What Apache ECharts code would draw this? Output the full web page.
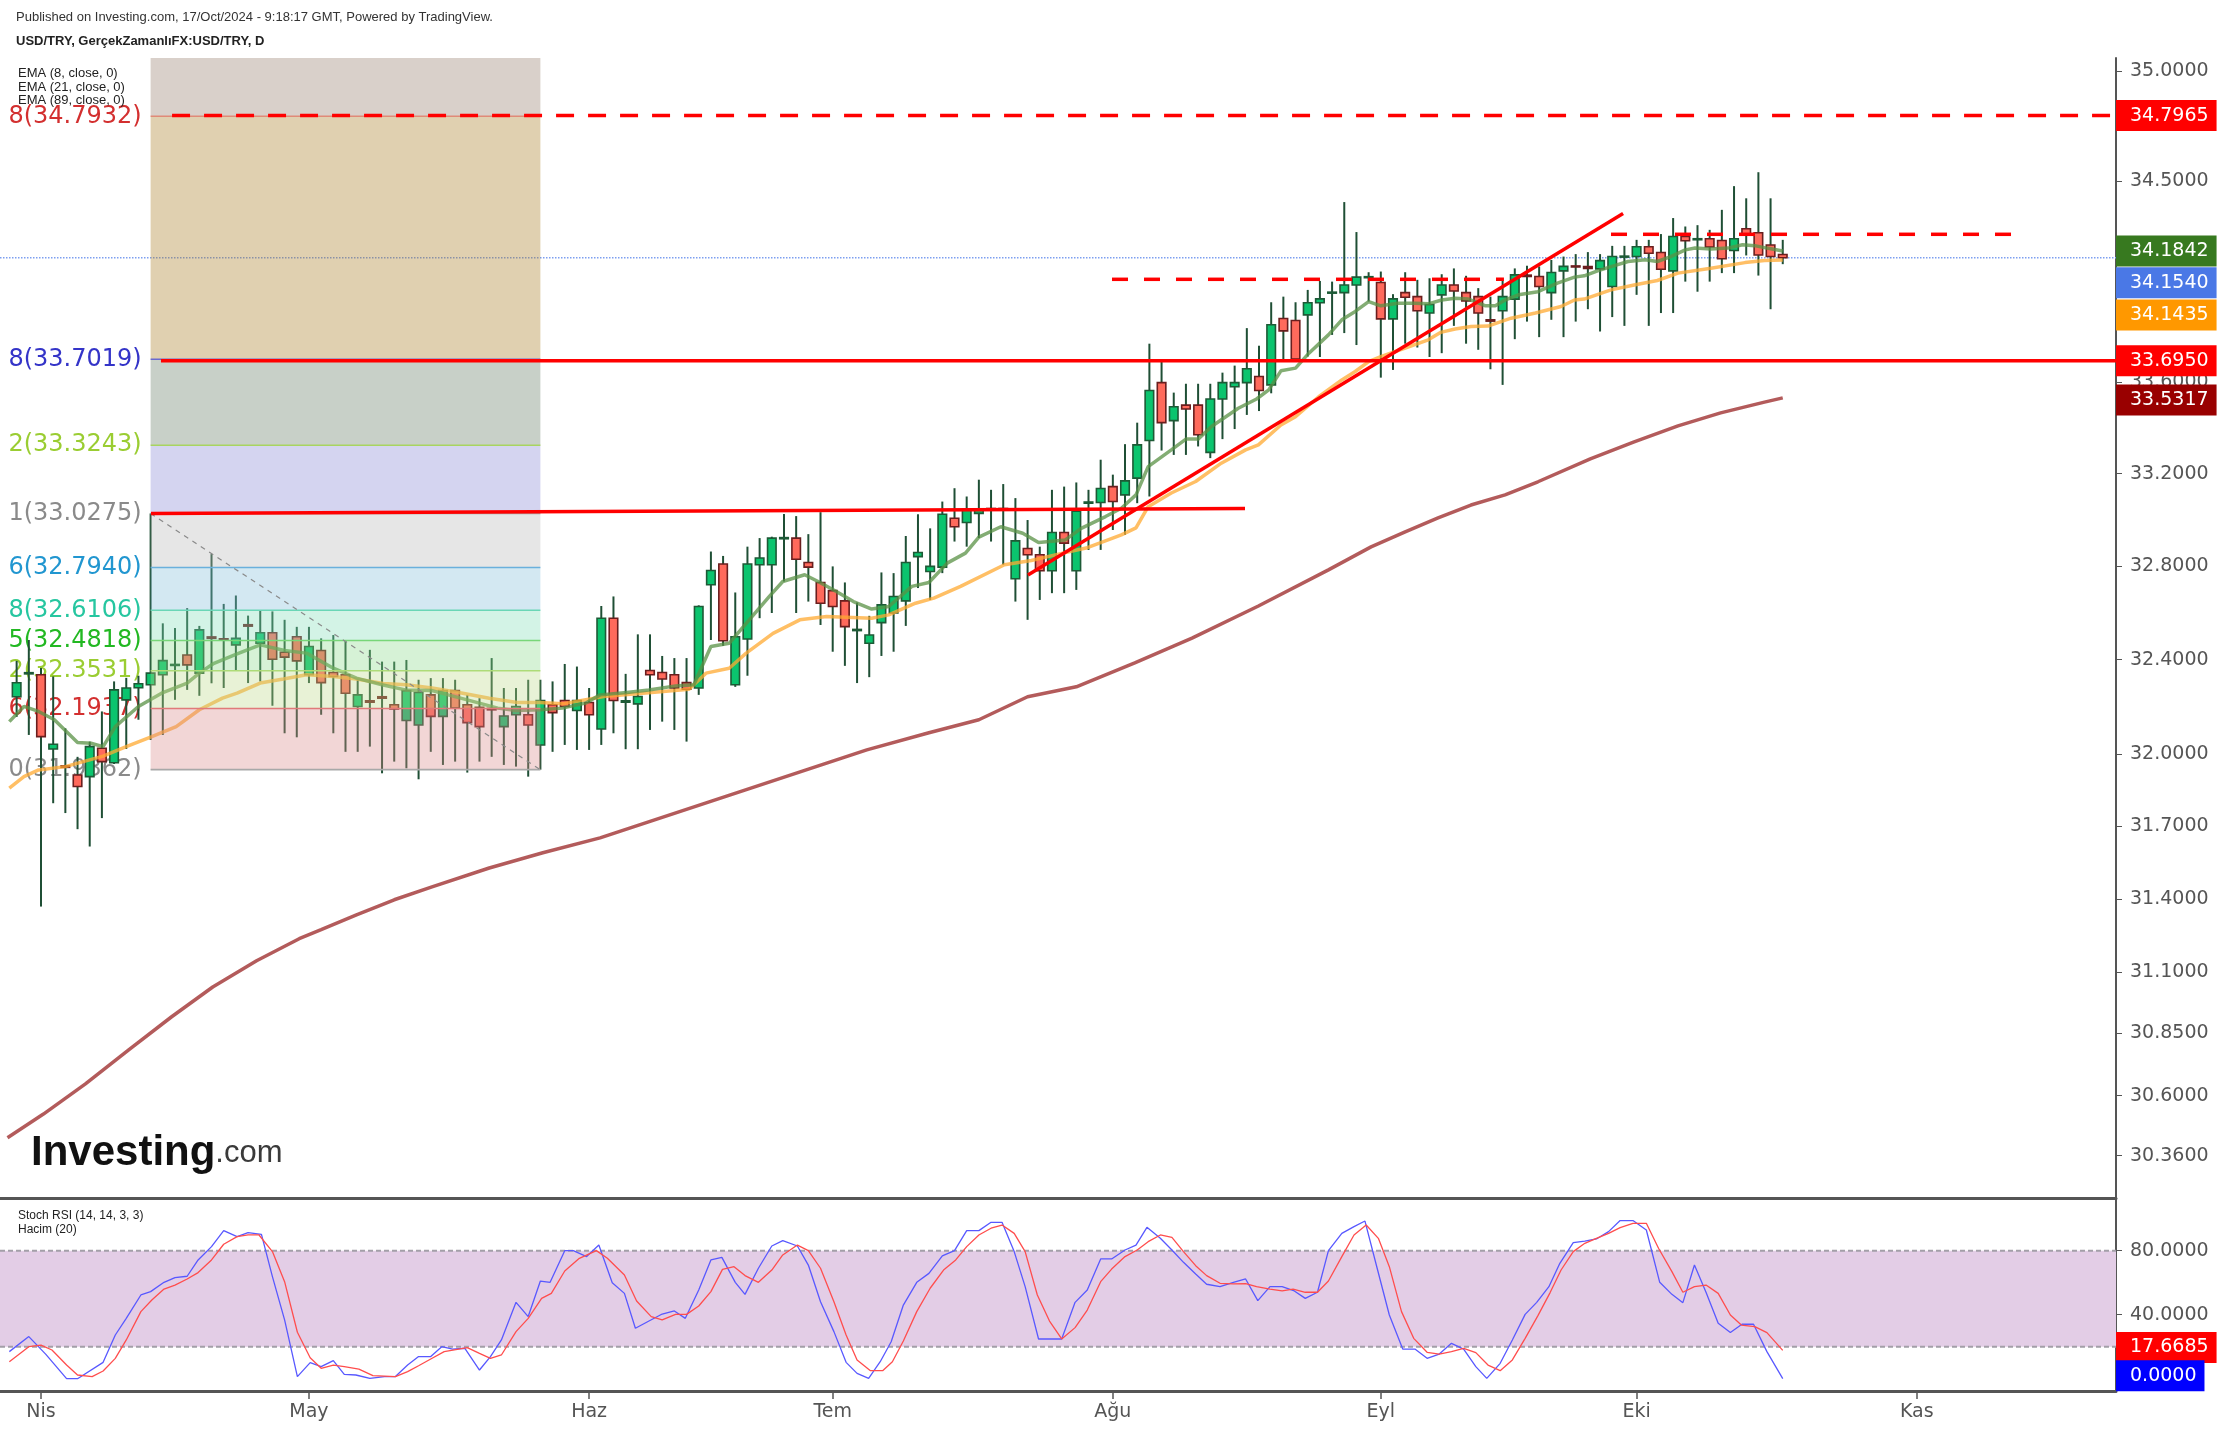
<!DOCTYPE html>
<html><head><meta charset="utf-8">
<script src="https://cdn.jsdelivr.net/npm/echarts/dist/echarts.min.js"></script>
<style>html,body{margin:0;padding:0;background:#fff}#c{width:2230px;height:1434px}</style>
</head><body><div id="c"></div>
<script>
// ---------------- DATA ----------------
// bar index 0 = 1 Apr 2024 (trading days only)
const monthStarts = [0, 22, 45, 65, 88, 110, 131, 154];
const monthNames = ['Nis', 'May', 'Haz', 'Tem', 'Ağu', 'Eyl', 'Eki', 'Kas'];
const priceTicks = [30.36, 30.6, 30.85, 31.1, 31.4, 31.7, 32.0, 32.4, 32.8, 33.2, 33.6, 34.5, 35.0];
const stochTicks = [0, 40, 80];
const firstBar = -2;
// [open, close, low, high]
const candles = [
[32.243,32.302,32.158,32.395],[32.340,32.345,32.082,32.484],[32.336,32.075,31.368,32.365],[32.023,32.043,31.796,32.329],
[31.952,31.946,31.755,32.110],[31.914,31.866,31.688,31.990],[31.907,32.033,31.616,32.054],[32.026,31.970,31.734,32.181],
[31.965,32.272,31.960,32.308],[32.230,32.280,32.023,32.323],[32.281,32.298,32.146,32.332],[32.294,32.343,32.061,33.0275],
[32.336,32.396,32.082,32.555],[32.376,32.380,32.230,32.535],[32.420,32.378,32.272,32.620],[32.343,32.527,32.247,32.544],
[32.497,32.491,32.300,32.852],[32.489,32.484,32.280,32.638],[32.463,32.491,32.354,32.674],[32.549,32.543,32.301,32.588],
[32.470,32.515,32.308,32.610],[32.515,32.402,32.205,32.606],[32.432,32.411,32.089,32.570],[32.498,32.395,32.072,32.540],
[32.336,32.456,32.301,32.540],[32.439,32.303,32.167,32.491],[32.346,32.329,32.089,32.505],[32.336,32.258,32.011,32.484],
[32.202,32.251,32.011,32.315],[32.226,32.220,32.033,32.442],[32.243,32.237,31.921,32.392],[32.209,32.191,31.970,32.392],
[32.143,32.269,31.942,32.399],[32.124,32.261,31.896,32.315],[32.251,32.160,32.011,32.322],[32.160,32.269,31.956,32.322],
[32.269,32.195,31.970,32.315],[32.209,32.134,31.924,32.251],[32.199,32.117,31.970,32.237],[32.194,32.188,31.990,32.407],
[32.117,32.162,31.956,32.280],[32.167,32.202,31.949,32.280],[32.167,32.124,31.907,32.315],[32.040,32.227,31.9362,32.315],
[32.209,32.176,32.011,32.308],[32.227,32.202,32.040,32.382],[32.185,32.227,32.019,32.371],[32.219,32.167,32.019,32.280],
[32.107,32.577,32.040,32.629],[32.577,32.227,32.089,32.670],[32.220,32.226,32.022,32.340],[32.213,32.244,32.022,32.508],
[32.354,32.336,32.103,32.508],[32.346,32.318,32.138,32.416],[32.336,32.280,32.103,32.407],[32.303,32.275,32.054,32.407],
[32.280,32.627,32.251,32.632],[32.720,32.781,32.484,32.863],[32.809,32.481,32.459,32.844],[32.294,32.498,32.285,32.687],
[32.488,32.809,32.332,32.884],[32.806,32.835,32.577,32.921],[32.806,32.921,32.599,32.927],[32.918,32.923,32.734,33.025],
[32.921,32.830,32.599,33.016],[32.816,32.796,32.648,32.938],[32.730,32.641,32.548,33.033],[32.695,32.627,32.434,32.799],
[32.651,32.541,32.374,32.730],[32.524,32.529,32.301,32.644],[32.470,32.505,32.326,32.587],[32.558,32.634,32.416,32.773],
[32.599,32.670,32.434,32.770],[32.651,32.816,32.544,32.930],[32.841,32.859,32.706,33.024],[32.777,32.799,32.655,32.963],
[32.796,33.024,32.770,33.079],[33.007,32.970,32.906,33.137],[32.988,33.046,32.884,33.101],[33.028,33.046,32.921,33.174],
[33.049,33.045,32.906,33.130],[33.049,33.045,32.806,33.155],[32.746,32.909,32.648,33.094],[32.876,32.849,32.570,32.999],
[32.849,32.780,32.655,32.884],[32.780,32.945,32.684,33.130],[32.945,32.899,32.684,33.144],[32.780,33.037,32.698,33.162],
[33.072,33.077,32.870,33.130],[33.075,33.136,32.870,33.261],[33.144,33.079,32.956,33.196],[33.108,33.169,32.935,33.329],
[33.181,33.326,33.072,33.423],[33.345,33.564,33.101,33.771],[33.599,33.423,33.301,33.692],[33.432,33.493,33.282,33.555],
[33.500,33.483,33.282,33.594],[33.500,33.370,33.319,33.594],[33.293,33.527,33.268,33.594],[33.527,33.599,33.351,33.643],
[33.581,33.599,33.395,33.674],[33.599,33.660,33.457,33.840],[33.626,33.564,33.474,33.762],[33.589,33.855,33.552,33.955],
[33.883,33.828,33.703,33.980],[33.874,33.703,33.692,33.955],[33.899,33.953,33.714,34.010],[33.953,33.970,33.712,34.050],
[33.996,34.000,33.810,34.047],[33.998,34.032,33.818,34.404],[34.032,34.067,33.765,34.269],[34.065,34.069,33.958,34.089],
[34.043,33.881,33.621,34.092],[33.881,33.970,33.655,33.991],[33.998,33.977,33.771,34.089],[33.980,33.917,33.754,34.055],
[33.907,33.945,33.712,34.062],[33.988,34.032,33.729,34.080],[34.032,34.005,33.850,34.106],[33.998,33.961,33.771,34.073],
[33.980,33.907,33.744,34.018],[33.877,33.871,33.658,33.980],[33.917,33.980,33.589,34.055],[33.969,34.077,33.791,34.106],
[34.076,34.070,33.869,34.118],[34.070,34.025,33.800,34.115],[33.998,34.088,33.877,34.144],[34.095,34.115,33.800,34.159],
[34.117,34.113,33.869,34.170],[34.114,34.106,33.924,34.179],[34.104,34.141,33.825,34.170],[34.025,34.159,33.889,34.207],
[34.157,34.161,33.850,34.207],[34.159,34.203,33.988,34.234],[34.203,34.174,33.850,34.234],[34.177,34.102,33.907,34.260],
[34.095,34.249,33.907,34.332],[34.249,34.230,34.047,34.294],[34.235,34.239,34.002,34.300],[34.239,34.202,34.047,34.279],
[34.231,34.149,34.085,34.369],[34.186,34.239,34.085,34.476],[34.284,34.256,34.164,34.421],[34.266,34.166,34.074,34.539],
[34.211,34.159,33.924,34.421],[34.168,34.154,34.125,34.234]
];
// [bar, value]
const ema8 = [[-2.6,32.138],[-1.4,32.202],[-0.2,32.181],[1.1,32.146],[3.0,32.050],[4.1,32.047],[5.1,32.033],[6.1,32.117],[8.0,32.202],[9.9,32.258],[12.0,32.301],[13.0,32.343],[14.2,32.385],[16.1,32.425],[18.0,32.463],[20.0,32.439],[21.8,32.428],[24.0,32.364],[25.9,32.322],[28.0,32.294],[29.9,32.272],[32.1,32.269],[35.0,32.230],[37.5,32.195],[39.0,32.185],[41.0,32.188],[42.8,32.195],[44.7,32.216],[45.9,32.251],[48.1,32.261],[49.9,32.272],[52.1,32.289],[53.6,32.294],[55.0,32.456],[56.5,32.470],[57.9,32.555],[59.8,32.670],[60.9,32.734],[62.7,32.763],[63.8,32.734],[65.3,32.691],[66.7,32.648],[68.2,32.616],[69.6,32.627],[71.5,32.713],[72.9,32.730],[74.4,32.813],[75.9,32.856],[77.0,32.925],[78.8,32.970],[80.6,32.942],[81.9,32.902],[82.8,32.906],[84.1,32.913],[85.4,32.963],[87.4,33.014],[88.7,33.050],[89.9,33.108],[90.9,33.231],[92.8,33.304],[94.0,33.351],[95.0,33.351],[96.1,33.406],[98.3,33.486],[99.8,33.527],[100.8,33.567],[101.8,33.651],[103.0,33.663],[104.1,33.729],[105.7,33.810],[106.8,33.877],[107.9,33.914],[109.0,33.958],[110.0,33.939],[111.4,33.951],[112.8,33.951],[113.9,33.948],[115.0,33.965],[116.1,33.973],[117.2,33.969],[118.6,33.939],[119.4,33.939],[120.2,33.965],[121.3,33.988],[122.9,34.002],[124.5,34.040],[125.9,34.067],[126.7,34.073],[127.8,34.095],[128.9,34.114],[130.3,34.137],[131.7,34.145],[132.7,34.137],[133.8,34.159],[135.0,34.189],[135.8,34.197],[137.1,34.193],[138.5,34.197],[139.7,34.212],[140.7,34.208],[141.7,34.197],[143,34.1842]];
const ema21 = [[-2.6,31.859],[-1.4,31.907],[-0.2,31.935],[2.0,31.949],[5.1,31.993],[7.0,32.033],[9.1,32.075],[11.1,32.117],[13.0,32.188],[14.9,32.237],[16.1,32.258],[18.0,32.301],[19.9,32.318],[21.8,32.336],[24.0,32.329],[25.9,32.318],[28.1,32.299],[30.0,32.294],[32.1,32.280],[34.3,32.261],[36.8,32.237],[39.1,32.219],[41.0,32.219],[42.8,32.213],[46.2,32.244],[49.9,32.260],[53.2,32.275],[54.6,32.343],[56.5,32.364],[57.9,32.428],[60.1,32.512],[62.3,32.570],[64.5,32.584],[68.2,32.577],[69.6,32.591],[71.8,32.641],[73.3,32.663],[75.5,32.713],[79.1,32.806],[81.3,32.824],[83.9,32.856],[85.8,32.878],[88.7,32.935],[89.9,32.965],[90.9,33.057],[92.8,33.116],[94.8,33.166],[96.9,33.246],[98.9,33.304],[99.95,33.326],[101.8,33.413],[103.0,33.449],[104.9,33.537],[106.8,33.611],[107.9,33.648],[109.0,33.692],[110.0,33.714],[112.0,33.752],[113.9,33.788],[114.9,33.821],[116.1,33.836],[117.4,33.847],[118.8,33.849],[120.7,33.884],[122.7,33.907],[124.8,33.936],[125.9,33.965],[126.7,33.969],[128.9,34.010],[130.8,34.032],[132.7,34.052],[134.4,34.085],[137.1,34.107],[139.9,34.132],[141.5,34.141],[143,34.1435]];
const ema89 = [[-2.75,30.431],[0.2,30.526],[3.65,30.647],[7.2,30.784],[10.7,30.917],[14.1,31.039],[17.7,31.146],[21.2,31.236],[23.0,31.273],[25.9,31.334],[29.0,31.396],[32.1,31.449],[36.8,31.527],[41.2,31.590],[45.9,31.652],[67.8,32.019],[72.9,32.091],[77.0,32.146],[81.0,32.243],[85.0,32.285],[89.8,32.387],[94.5,32.492],[99.95,32.629],[105.7,32.784],[109.2,32.883],[112.0,32.948],[114.7,33.008],[117.4,33.064],[120.2,33.108],[122.9,33.165],[127.2,33.265],[130.8,33.339],[134.4,33.409],[137.9,33.466],[141.5,33.513],[143,33.5317]];
const stochK = [[-2.6,16.9],[-1.0,26.3],[0.4,15.2],[2.1,0],[3.0,0],[5.1,10.2],[6.1,27.3],[7.0,37.7],[8.2,52.3],[9.0,54.4],[10.1,60.2],[11.0,63.1],[12.0,64.0],[12.9,74.2],[14.0,82.5],[15.0,92.5],[16.1,88.8],[17.0,91.3],[18.1,90.2],[19.0,63.8],[20.0,36.7],[21.05,1.3],[22.1,10.0],[23.0,7.5],[24.0,11.3],[24.9,2.7],[25.85,2.3],[27.0,0.2],[28.2,1.3],[29.1,1.3],[30.1,8.5],[31.0,13.8],[32.0,13.8],[32.9,20],[33.8,18.5],[34.8,19],[36.0,5.4],[36.9,13.8],[37.8,24.2],[39.0,47.7],[40.0,38.8],[41.0,61],[41.8,60.2],[43.0,80],[43.7,80],[44.8,76.3],[45.8,83.5],[46.9,60],[47.9,53.3],[48.8,31.5],[49.8,35.6],[51.0,40.4],[52.0,42.3],[52.9,37.7],[54.0,55.4],[55.0,74.2],[55.9,75.8],[57.0,60.2],[57.8,52.7],[58.9,69],[60.0,82.9],[60.9,86.3],[62.1,82.9],[63.0,71],[64.0,48.1],[65.1,29.4],[66.1,10.2],[67.0,3.3],[67.95,0.2],[68.9,10.6],[69.8,23.1],[70.8,46],[71.9,60.2],[72.9,65.8],[74.0,76.7],[75.0,80],[76.0,92.5],[77.0,92.5],[78.0,97.7],[78.9,97.7],[79.9,79.4],[80.8,57.5],[81.9,24.8],[82.8,24.8],[83.8,24.8],[84.9,47.7],[85.9,55.4],[87.0,74.8],[87.9,74.8],[89.0,80.4],[89.9,83.5],[90.8,94.6],[91.9,87.7],[92.85,80.4],[93.8,72.7],[94.8,65.4],[95.7,59],[96.8,57.5],[97.9,60.2],[98.9,62.3],[99.9,48.8],[100.9,57.5],[101.9,57.5],[102.9,54.8],[103.8,50.2],[104.8,54],[105.7,80],[106.8,90.8],[107.8,95],[108.7,98.5],[109.7,69],[110.7,39.8],[111.8,18.5],[112.8,18.5],[113.8,12.7],[114.8,15.4],[115.8,22.1],[116.8,18.5],[117.8,7.5],[118.7,0.2],[119.8,9.6],[120.8,24.2],[121.85,40.2],[122.8,47.7],[123.8,57.5],[124.7,72.1],[125.8,85],[126.75,86],[127.7,87.3],[128.7,91.9],[129.65,98.8],[130.7,98.8],[131.8,92.9],[132.9,60.2],[133.9,52.7],[134.8,47.5],[135.75,71],[136.7,54],[137.7,34.6],[138.7,28.8],[139.65,34],[140.6,34],[141.7,16.9],[143,0]];
const stochD = [[-2.6,10.6],[-1.0,20],[0,21],[0.9,17.9],[2.1,8.5],[3.0,2.3],[4.2,1.3],[5.1,4.8],[6.1,12.7],[7.0,24.2],[8.2,41.9],[9.1,49.2],[10.1,56],[11.0,58.5],[12.0,62.3],[12.9,66.3],[14.0,74.2],[15.0,84],[16.1,88.8],[17.0,89.8],[17.9,89.8],[19.0,79.4],[20.0,60.6],[21.05,29],[22.1,13.1],[23.0,6.5],[24.0,8.5],[24.9,7.5],[26.1,6.0],[27.25,1.9],[29.1,1.3],[30.1,4.4],[31.0,8.1],[32.0,12.3],[33.1,16.9],[34.3,18.5],[35.0,19.4],[36.0,15.8],[36.9,12.7],[37.8,14.8],[39.0,29.4],[40.0,37.7],[41.1,50.2],[41.9,53.3],[43.0,67.3],[44.2,75.2],[45.6,80],[46.5,75.2],[47.9,64.8],[48.9,48.5],[50.1,38.8],[51.0,36.7],[52.1,40.2],[53.0,40.2],[54.0,45.4],[55.0,54.4],[55.95,68.3],[56.9,70],[57.8,64.4],[58.9,60.2],[60.0,67.9],[60.9,77.3],[62.1,83.5],[63.0,80],[64.0,69],[65.1,48.1],[66.1,27.3],[67.0,11.7],[68.1,5],[69.1,5],[69.9,10.6],[70.8,23.5],[71.9,41.9],[73.0,56.5],[74.1,67.9],[75.1,74.2],[76.0,82.5],[77.0,89.8],[78.0,94],[78.9,96],[79.9,90.8],[80.8,79.4],[81.8,52.3],[82.8,36],[83.8,24.8],[84.9,31.9],[85.9,42.9],[87.0,60.6],[87.9,68.5],[89.0,76.3],[90.0,80.4],[90.9,85.6],[91.9,89.8],[92.85,88.3],[93.8,79.4],[94.8,70.6],[95.7,64.4],[96.8,59.6],[97.9,59.2],[98.9,59.4],[99.8,57.5],[100.9,56],[101.9,54.8],[102.8,56],[103.8,54],[104.8,54],[105.7,61],[106.8,76.3],[107.8,89.8],[108.8,96],[109.8,87.7],[110.7,70],[111.7,41.9],[112.7,25.2],[113.8,16.5],[114.8,15.4],[115.8,16.9],[116.8,19],[117.8,16.3],[118.8,8.5],[119.8,5],[120.8,11.7],[121.85,25.2],[122.9,39.4],[123.9,53.8],[124.8,67.9],[125.8,79.4],[126.75,84.6],[127.7,87.7],[128.7,90.8],[129.65,94.4],[130.7,97.1],[131.8,97.1],[132.8,81.5],[133.9,66.9],[134.8,54],[135.75,57.5],[136.7,58.5],[137.7,53.3],[138.7,39.8],[139.6,33.5],[140.7,32.5],[141.7,28.8],[143,17.6685]];
// Fibonacci retracement (anchored 12 Apr high -> 28 May low)
const fibStart = 9, fibEnd = 41;
const fibPrices = [31.9362, 32.1937, 32.3531, 32.4818, 32.6106, 32.7940, 33.0275, 33.3243, 33.7019, 34.7932, 35.8845];
const fibLabels = ['0(31.9362)', '6(32.1937)', '2(32.3531)', '5(32.4818)', '8(32.6106)', '6(32.7940)', '1(33.0275)', '2(33.3243)', '8(33.7019)', '8(34.7932)'];
// user-drawn lines [[bar, price], [bar, price]]
const lineTopDashed = [[10.76, 34.7965], [170.36, 34.7965]];
const lineSupport = [[9.85, 33.695], [170.36, 33.695]];
const lineOldResistance = [[9.03, 33.0275], [98.85, 33.049]];
const lineTrend = [[81.03, 32.762], [129.89, 34.353]];
const lineMidDashed = [[87.93, 34.0573], [120.11, 34.0573]];
const lineUpperDashed = [[128.9, 34.2589], [161.95, 34.2589]];
const lastPrice = 34.1540;
const priceTagValues = [34.7965, 34.1842, 34.1540, 34.1435, 33.6950, 33.5317];
const stochTagValues = [17.6685, 0.0];

// ---------------- STYLE / LAYOUT ----------------
const FONT = 'DejaVu Sans';
const SANS = 'Liberation Sans';
const xMin = -3.366, xMax = 170.36;
const yMin = 30.1918, yMax = 35.0602;
const fibLabelColors = ['#8a8a8a', '#d32f2f', '#9acd32', '#22b822', '#26c6a0', '#2196d0', '#8a8a8a', '#9acd32', '#3434c8', '#d32f2f'];
const fibBandColors = ['rgba(218,138,138,0.35)', 'rgba(189,218,138,0.35)', 'rgba(138,218,138,0.35)', 'rgba(129,221,184,0.35)',
  'rgba(129,189,218,0.35)', 'rgba(184,184,184,0.35)', 'rgba(132,132,212,0.35)', 'rgba(98,121,98,0.35)',
  'rgba(166,121,29,0.35)', 'rgba(146,121,104,0.35)'];
const fibLineColors = ['#a8a8a8', '#e07a7a', '#aedb78', '#78d678', '#6ad6b6', '#6ab0dc', '#a8a8a8', '#a8d460', '#6a6ad0', '#e08a78'];
const tagColors = ['#ff0000', '#37791f', '#4a78e6', '#ff9800', '#ff0000', '#990000'];
const tagOffsets = [0, 0, 25, 55, 0, 2];
const stochTagColors = ['#ff0000', '#0000ff'];
const stochTagOffsets = [-3, -3];

const chart = echarts.init(document.getElementById('c'), null, {renderer: 'canvas', width: 2230, height: 1434});

const candleData = candles.map((d, i) => [firstBar + i, d[0], d[1], d[2], d[3]]);

function renderCandle(params, api) {
  const x = api.value(0), o = api.value(1), c = api.value(2), l = api.value(3), h = api.value(4);
  const po = api.coord([x, o]), pc = api.coord([x, c]), pl = api.coord([x, l]), ph = api.coord([x, h]);
  const bw = api.size([1, 0])[0] * 0.7;
  const up = c >= o;
  const top = Math.min(po[1], pc[1]);
  const hgt = Math.max(Math.abs(po[1] - pc[1]), 1);
  return {type: 'group', children: [
    {type: 'line', shape: {x1: pl[0], y1: pl[1], x2: ph[0], y2: ph[1]}, style: {stroke: '#1f4f35', lineWidth: 2}},
    {type: 'rect', shape: {x: po[0] - bw / 2, y: top, width: bw, height: hgt},
     style: {fill: up ? '#0bc46e' : '#ff6a5c', stroke: up ? '#1d5a36' : '#6a1e1e', lineWidth: 1.6}}
  ]};
}

function renderFib(params, api) {
  const i = api.value(3);
  const a = api.coord([api.value(0), api.value(2)]);
  const b = api.coord([fibEnd, api.value(1)]);
  return {type: 'group', children: [
    {type: 'rect', shape: {x: a[0], y: a[1], width: b[0] - a[0], height: b[1] - a[1]}, style: {fill: fibBandColors[i]}},
    {type: 'line', shape: {x1: a[0], y1: b[1], x2: b[0], y2: b[1]}, style: {stroke: fibLineColors[i], lineWidth: 1.6}}
  ]};
}

function seg(data, color, width, type, z, xi, yi) {
  return {type: 'line', xAxisIndex: xi || 0, yAxisIndex: yi || 0, data: data, showSymbol: false, symbol: 'none',
    lineStyle: {color: color, width: width, type: type || 'solid'}, z: z, silent: true, clip: true};
}

function tagSeries(values, colors, offsets, xi, yi) {
  return {type: 'scatter', xAxisIndex: xi, yAxisIndex: yi, symbolSize: 0, clip: false, z: 20, silent: true,
    itemStyle: {opacity: 1},
    data: values.map((v, i) => ({value: [xMax, v], label: {backgroundColor: colors[i], offset: [0, offsets[i]]}})),
    label: {show: true, position: 'right', distance: 0, color: '#fff', fontSize: 19, fontFamily: FONT, opacity: 1,
      lineHeight: 21, padding: [5, 8, 5, 14], formatter: p => p.value[1].toFixed(4)}};
}

const option = {
  animation: false,
  backgroundColor: '#ffffff',
  grid: [
    {left: 0, right: 114, top: 58, height: 1140},
    {left: 0, right: 114, top: 1198, height: 193}
  ],
  xAxis: [
    {gridIndex: 0, type: 'value', min: xMin, max: xMax,
      axisLine: {show: true, onZero: false, lineStyle: {color: '#555', width: 3}},
      axisTick: {show: false}, axisLabel: {show: false}, splitLine: {show: false}},
    {gridIndex: 1, type: 'value', min: xMin, max: xMax,
      axisLine: {show: true, onZero: false, lineStyle: {color: '#555', width: 3}},
      axisTick: {show: true, customValues: monthStarts, length: 8, lineStyle: {color: '#555', width: 1.5}},
      axisLabel: {show: true, customValues: monthStarts, color: '#555', fontSize: 19, fontFamily: FONT, margin: 12,
        formatter: v => monthNames[monthStarts.indexOf(Math.round(v))] || ''},
      splitLine: {show: false}}
  ],
  yAxis: [
    {gridIndex: 0, type: 'log', logBase: 10, min: yMin, max: yMax, position: 'right',
      axisLine: {show: true, onZero: false, lineStyle: {color: '#555', width: 2}},
      axisTick: {show: true, customValues: priceTicks, length: 6, lineStyle: {color: '#555'}},
      axisLabel: {show: true, customValues: priceTicks, color: '#555', fontSize: 19, fontFamily: FONT, margin: 14,
        formatter: v => Number(v).toFixed(4)},
      splitLine: {show: false}},
    {gridIndex: 1, type: 'value', min: -7.7, max: 112.9, position: 'right',
      axisLine: {show: true, onZero: false, lineStyle: {color: '#555', width: 2}},
      axisTick: {show: true, customValues: stochTicks, length: 6, lineStyle: {color: '#555'}},
      axisLabel: {show: true, customValues: stochTicks, color: '#555', fontSize: 19, fontFamily: FONT, margin: 14,
        formatter: v => Number(v).toFixed(4)},
      splitLine: {show: false}}
  ],
  series: [
    // fib labels (under candles)
    {type: 'scatter', xAxisIndex: 0, yAxisIndex: 0, symbolSize: 0, clip: false, z: 1, silent: true,
      itemStyle: {opacity: 1},
      data: fibLabels.map((t, i) => ({value: [fibStart, fibPrices[i]], label: {color: fibLabelColors[i]}})),
      label: {show: true, position: 'left', distance: 9, fontSize: 24, fontFamily: FONT, opacity: 1,
        formatter: p => fibLabels[p.dataIndex]}},
    // price line
    seg([[xMin, lastPrice], [xMax, lastPrice]], '#7d9ff0', 1.5, 'dotted', 2),
    // candles
    {type: 'custom', xAxisIndex: 0, yAxisIndex: 0, z: 3, clip: true, silent: true,
      data: candleData, encode: {x: 0, y: [1, 2, 3, 4]}, renderItem: renderCandle},
    // EMAs
    seg(ema89, 'rgba(160,50,50,0.8)', 3.5, 'solid', 4),
    seg(ema21, 'rgba(255,170,50,0.75)', 3.5, 'solid', 4),
    seg(ema8, 'rgba(90,145,70,0.75)', 3.5, 'solid', 4),
    // fib bands
    {type: 'custom', xAxisIndex: 0, yAxisIndex: 0, z: 5, clip: true, silent: true,
      data: fibPrices.slice(0, -1).map((p, i) => [fibStart, p, fibPrices[i + 1], i]),
      encode: {x: 0, y: 1}, renderItem: renderFib},
    seg([[fibStart, fibPrices[6]], [fibEnd, fibPrices[0]]], '#8a8a8a', 1.2, [5, 5], 6),
    // user drawings
    seg(lineTopDashed, '#ff0000', 3.5, [18, 14], 7),
    seg(lineSupport, '#ff0000', 3.5, 'solid', 7),
    seg(lineOldResistance, '#ff0000', 3.5, 'solid', 7),
    seg(lineTrend, '#ff0000', 3.5, 'solid', 7),
    seg(lineMidDashed, '#ff0000', 3.5, [16, 16], 7),
    seg(lineUpperDashed, '#ff0000', 3.5, [16, 16], 7),
    // price tags
    tagSeries(priceTagValues, tagColors, tagOffsets, 0, 0),
    // stoch band
    {type: 'custom', xAxisIndex: 1, yAxisIndex: 1, z: 1, clip: true, silent: true,
      data: [[xMin, 20, 80]], encode: {x: 0, y: 1},
      renderItem: (params, api) => {
        const a = api.coord([xMin, api.value(2)]), b = api.coord([xMax, api.value(1)]);
        return {type: 'rect', shape: {x: a[0], y: a[1], width: b[0] - a[0], height: b[1] - a[1]}, style: {fill: '#e3cde6'}};
      }},
    seg([[xMin, 80], [xMax, 80]], '#a39fa8', 2, [5, 3], 2, 1, 1),
    seg([[xMin, 20], [xMax, 20]], '#a39fa8', 2, [5, 3], 2, 1, 1),
    seg(stochK, '#5858ff', 1.3, 'solid', 3, 1, 1),
    seg(stochD, '#ff4d4d', 1.3, 'solid', 3, 1, 1),
    tagSeries(stochTagValues, stochTagColors, stochTagOffsets, 1, 1)
  ],
  graphic: [
    {type: 'text', x: 16, y: 17, z: 50, style: {text: 'Published on Investing.com, 17/Oct/2024 - 9:18:17 GMT, Powered by TradingView.',
      fontSize: 13, fontFamily: SANS, fill: '#333', verticalAlign: 'middle'}},
    {type: 'text', x: 16, y: 41, z: 50, style: {text: 'USD/TRY, GerçekZamanlıFX:USD/TRY, D',
      fontSize: 13, fontWeight: 'bold', fontFamily: SANS, fill: '#222', verticalAlign: 'middle'}},
    {type: 'text', x: 18, y: 73, z: 50, style: {text: 'EMA (8, close, 0)', fontSize: 13, fontFamily: SANS, fill: '#222', verticalAlign: 'middle'}},
    {type: 'text', x: 18, y: 87, z: 50, style: {text: 'EMA (21, close, 0)', fontSize: 13, fontFamily: SANS, fill: '#222', verticalAlign: 'middle'}},
    {type: 'text', x: 18, y: 100, z: 50, style: {text: 'EMA (89, close, 0)', fontSize: 13, fontFamily: SANS, fill: '#222', verticalAlign: 'middle'}},
    {type: 'text', x: 18, y: 1216, z: 50, style: {text: 'Stoch RSI (14, 14, 3, 3)', fontSize: 12, fontFamily: SANS, fill: '#222', verticalAlign: 'middle'}},
    {type: 'text', x: 18, y: 1230, z: 50, style: {text: 'Hacim (20)', fontSize: 12, fontFamily: SANS, fill: '#222', verticalAlign: 'middle'}},
    {type: 'text', x: 31, y: 1153, z: 50, style: {
      text: '{a|Investing}{b|.com}', verticalAlign: 'middle',
      rich: {a: {fontSize: 42, fontWeight: 'bold', fontFamily: SANS, fill: '#111', color: '#111'},
             b: {fontSize: 31, fontFamily: SANS, fill: '#3a3a3a', color: '#3a3a3a'}}}}
  ]
};
chart.setOption(option);
</script>
</body></html>
